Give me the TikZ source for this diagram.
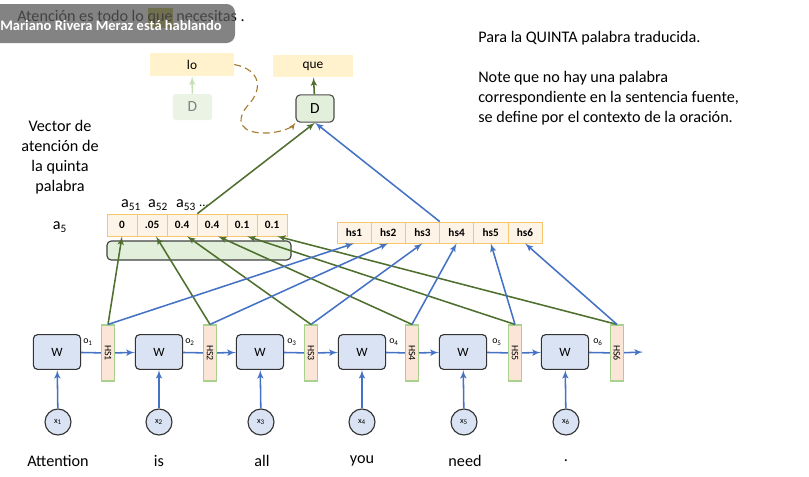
\documentclass[tikz,border=0pt]{standalone}
\usepackage{fontspec}
\setmainfont{Carlito}
\usepackage{tikz}
\usetikzlibrary{arrows}
\definecolor{lineblue}{HTML}{4472C4}
\definecolor{linegreen}{HTML}{4F6F2F}
\definecolor{wfill}{HTML}{DAE3F3}
\definecolor{hsfill}{HTML}{FBE5D6}
\definecolor{hsborder}{HTML}{A9D18E}
\definecolor{cellfill}{HTML}{FDF3E6}
\definecolor{cellborder}{HTML}{F5C66B}
\definecolor{wordfill}{HTML}{FFF2CC}
\definecolor{dfill}{HTML}{E2EFDA}
\definecolor{fadefill}{HTML}{EAF3E4}
\definecolor{fadeline}{HTML}{C5E0B4}
\definecolor{loopline}{HTML}{A67C32}
\definecolor{hilite}{HTML}{B8B22E}
\definecolor{overlaygrey}{HTML}{5A5A5A}

\begin{document}
\begin{tikzpicture}[x=0.025cm,y=-0.025cm]
        \tikzset{wbox/.style = {shape=rectangle,rounded corners=3pt,draw=black!80,fill=wfill,thick,minimum width=1.18cm,minimum height=0.87cm,font=\fontsize{9}{9}\selectfont}}
        \tikzset{hsbar/.style = {shape=rectangle,draw=hsborder,fill=hsfill,thick,rotate=-90,minimum width=1.4cm,minimum height=0.33cm,inner sep=0pt,font=\fontsize{7}{7}\selectfont}}
        \tikzset{xin/.style = {shape=circle,draw=black!80,fill=wfill,thick,minimum size=0.65cm,inner sep=0pt,font=\fontsize{6}{6}\selectfont}}
        \tikzset{acell/.style = {shape=rectangle,draw=cellborder,fill=cellfill,minimum width=0.75cm,minimum height=0.55cm,inner sep=0pt,font=\bfseries\fontsize{8}{8}\selectfont}}
        \tikzset{hcell/.style = {acell,minimum width=0.855cm,minimum height=0.53cm}}
        \tikzset{flow/.style = {->,> = latex', line width=1.1pt, draw = lineblue}}
        \tikzset{score/.style = {->,> = latex', line width=1.1pt, draw = linegreen}}
        \tikzset{word/.style = {font=\fontsize{11.5}{14.2}\selectfont}}
        \tikzset{olabel/.style = {font=\fontsize{7}{7}\selectfont}}
        \useasboundingbox (0,0) rectangle (809,476);
        % title and speaker overlay
        \fill[hilite] (148,8) rectangle (173,28);
        \node[word,anchor=west,inner sep=0pt] (title) at (17,17) {Atención es todo lo que necesitas .};
        \fill[overlaygrey,opacity=0.75,rounded corners=6pt] (-20,4) rectangle (235,43);
        \node[anchor=west,inner sep=0pt,text=white,font=\bfseries\fontsize{10.3}{10.3}\selectfont] (speaker) at (0,25) {Mariano Rivera Meraz está hablando};
        % notes
        \node[word,anchor=north west,align=left,inner sep=0pt] (note) at (478,31) {Para la QUINTA palabra traducida.\\ \\Note que no hay una palabra\\correspondiente en la sentencia fuente,\\se define por el contexto de la oración.};
        \node[word,align=center] (caption) at (60,157) {Vector de\\atención de\\la quinta\\palabra};
        % decoder
        \node[shape=rectangle,fill=wordfill,minimum width=2.1cm,minimum height=0.58cm,font=\fontsize{9.5}{9.5}\selectfont] (lo) at (192,64.5) {lo};
        \node[shape=rectangle,fill=wordfill,minimum width=2.0cm,minimum height=0.55cm,font=\fontsize{9.5}{9.5}\selectfont] (que) at (313,66) {que};
        \node[shape=rectangle,rounded corners=2pt,fill=fadefill,text=black!50,minimum width=0.98cm,minimum height=0.65cm,font=\fontsize{11}{11}\selectfont] (Dold) at (192.5,107) {D};
        \node[shape=rectangle,rounded corners=3pt,draw=black!70,thick,fill=dfill,minimum width=0.95cm,minimum height=0.68cm,font=\fontsize{11}{11}\selectfont] (D) at (315,108.5) {D};
        \draw[->,> = latex',line width=1.1pt,draw=fadeline] (Dold) to (lo);
        \draw[score] (D) to (que);
        \draw[->,> = latex',thick,dashed,dash pattern=on 5pt off 3pt,draw=loopline] (lo.east) .. controls (262,70) and (262,90) .. (249,104) .. controls (234,121) and (240,134) .. (268,133) .. controls (284,132) and (293,126) .. (D.south west);
        % attention vector
        \node (a5) at (60,227) {\fontsize{11.5}{11.5}\selectfont a\textsubscript{5}};
        \node[font=\fontsize{11.5}{11.5}\selectfont] (a51) at (131,205) {a\textsubscript{51}};
        \node[font=\fontsize{11.5}{11.5}\selectfont] (a52) at (158,205) {a\textsubscript{52}};
        \node[font=\fontsize{11.5}{11.5}\selectfont] (a53) at (186,205) {a\textsubscript{53}};
        \node[font=\fontsize{9}{9}\selectfont] (adots) at (204,206) {...};
        \node[shape=rectangle,rounded corners=3pt,draw=black!75,thick,fill=dfill,minimum width=4.6cm,minimum height=0.475cm] (abox) at (199,250.5) {};
        \node[acell] (a1) at (122,225) {0};
        \node[acell] (a2) at (152,225) {.05};
        \node[acell] (a3) at (182,225) {0.4};
        \node[acell] (a4) at (212,225) {0.4};
        \node[acell] (a6) at (272,225) {0.1};
        \node[acell] (a5c) at (242,225) {0.1};
        % hidden states vector
        \node[hcell] (hs1) at (354,232.5) {hs1};
        \node[hcell] (hs2) at (388.2,232.5) {hs2};
        \node[hcell] (hs3) at (422.4,232.5) {hs3};
        \node[hcell] (hs4) at (456.6,232.5) {hs4};
        \node[hcell] (hs5) at (490.8,232.5) {hs5};
        \node[hcell] (hs6) at (525,232.5) {hs6};
        \draw[score] (a3.north east) to (D.south);
        \draw[flow] (hs3.north east) to (D.south);
        % encoder
        \node[wbox] (W1) at (57,352) {W};
        \node[wbox] (W2) at (159,352) {W};
        \node[wbox] (W3) at (260,352) {W};
        \node[wbox] (W4) at (362,352) {W};
        \node[wbox] (W5) at (463,352) {W};
        \node[wbox] (W6) at (565,352) {W};
        \node[hsbar] (HS1) at (108,353) {HS1};
        \node[hsbar] (HS2) at (210,353) {HS2};
        \node[hsbar] (HS3) at (311,353) {HS3};
        \node[hsbar] (HS4) at (412,353) {HS4};
        \node[hsbar] (HS5) at (515,353) {HS5};
        \node[hsbar] (HS6) at (617,353) {HS6};
        \coordinate (out) at (643,352);
        \node[olabel] (o1) at (88,342) {o\textsubscript{1}};
        \node[olabel] (o2) at (190,342) {o\textsubscript{2}};
        \node[olabel] (o3) at (292,342) {o\textsubscript{3}};
        \node[olabel] (o4) at (394,342) {o\textsubscript{4}};
        \node[olabel] (o5) at (497,342) {o\textsubscript{5}};
        \node[olabel] (o6) at (598,342) {o\textsubscript{6}};
        \node[xin] (x1) at (58,422) {x\textsubscript{1}};
        \node[xin] (x2) at (159,422) {x\textsubscript{2}};
        \node[xin] (x3) at (261,422) {x\textsubscript{3}};
        \node[xin] (x4) at (362,422) {x\textsubscript{4}};
        \node[xin] (x5) at (464,422) {x\textsubscript{5}};
        \node[xin] (x6) at (566,422) {x\textsubscript{6}};
        \node[word] (t1) at (58,461) {Attention};
        \node[word] (t2) at (159,461) {is};
        \node[word] (t3) at (262,461) {all};
        \node[word] (t4) at (362,461) {you};
        \node[word] (t5) at (465,461) {need};
        \node[word] (t6) at (566,461) {.};
        % recurrent edges
        \draw[line width=1.1pt,draw=lineblue] (W1) to (HS1);
        \draw[flow] (HS1) to (W2);
        \draw[line width=1.1pt,draw=lineblue] (W2) to (HS2);
        \draw[flow] (HS2) to (W3);
        \draw[line width=1.1pt,draw=lineblue] (W3) to (HS3);
        \draw[flow] (HS3) to (W4);
        \draw[line width=1.1pt,draw=lineblue] (W4) to (HS4);
        \draw[flow] (HS4) to (W5);
        \draw[line width=1.1pt,draw=lineblue] (W5) to (HS5);
        \draw[flow] (HS5) to (W6);
        \draw[line width=1.1pt,draw=lineblue] (W6) to (HS6);
        \draw[flow] (HS6) to (out);
        \draw[flow] (x1) to (W1);
        \draw[flow] (x2) to (W2);
        \draw[flow] (x3) to (W3);
        \draw[flow] (x4) to (W4);
        \draw[flow] (x5) to (W5);
        \draw[flow] (x6) to (W6);
        % hidden states to attention scores
        \draw[score] (HS1.west) to (a1.south);
        \draw[score] (HS2.west) to ([xshift=2.8pt]a2.south);
        \draw[score] (HS3.west) to ([xshift=3.6pt]a3.south);
        \draw[score] (HS4.west) to ([xshift=4.3pt]a4.south);
        \draw[score] (HS5.west) to ([xshift=3.6pt]a5c.south);
        \draw[score] (HS6.west) to ([xshift=3.6pt]a6.south);
        % hidden states to hs vector
        \draw[flow] (HS1.west) to (hs1.south);
        \draw[flow] (HS2.west) to (hs2.south);
        \draw[flow] (HS3.west) to (hs3.south);
        \draw[flow] (HS4.west) to (hs4.south);
        \draw[flow] (HS5.west) to (hs5.south);
        \draw[flow] (HS6.west) to (hs6.south);
\end{tikzpicture}
\end{document}
